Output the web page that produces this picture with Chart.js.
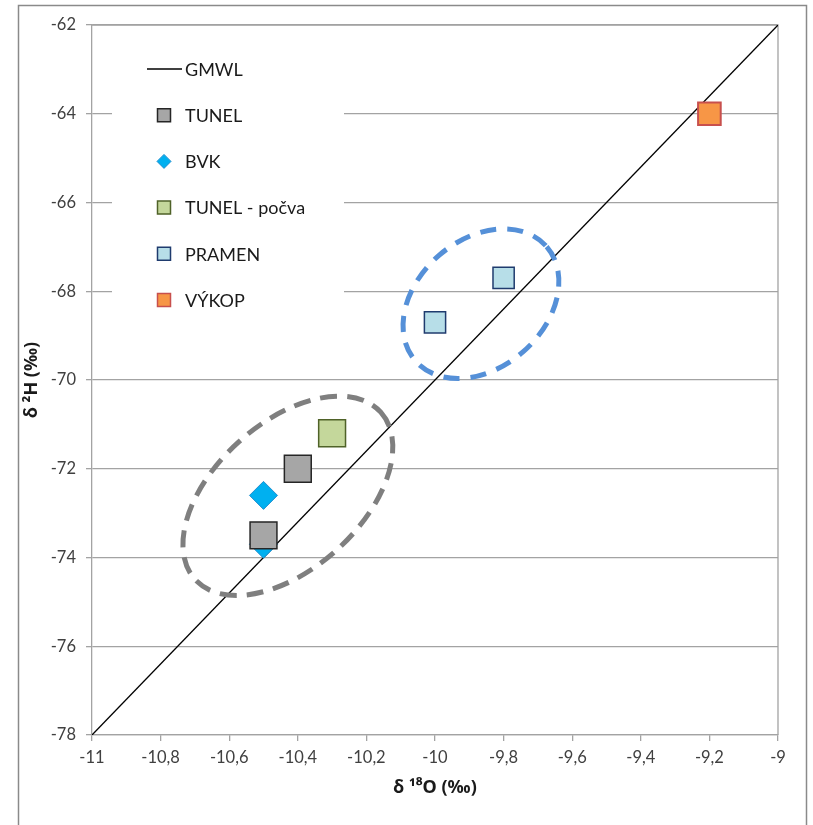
<!DOCTYPE html>
<html>
<head>
<meta charset="utf-8">
<title>δ18O – δ2H</title>
<script src="https://cdn.jsdelivr.net/npm/chart.js@4/dist/chart.umd.min.js"></script>
<style>
  html, body { margin: 0; padding: 0; background: #ffffff; }
  #wrap { width: 813px; height: 825px; }
</style>
</head>
<body>
<div id="wrap"><canvas id="c" width="813" height="825"></canvas></div>
<script>
// Isotope samples (δ18O ‰, δ2H ‰)
const gmwlX   = [-11, -9];
const gmwlY   = [-78, -62];
const tunelX  = [-10.4, -10.5];
const tunelY  = [-72.0, -73.5];
const bvkX    = [-10.5, -10.5];
const bvkY    = [-72.6, -73.7];
const pocvaX  = [-10.3];
const pocvaY  = [-71.2];
const pramenX = [-10.0, -9.8];
const pramenY = [-68.7, -67.7];
const vykopX  = [-9.2];
const vykopY  = [-64.0];

// Axis ticks
const xTicks = [-11, -10.8, -10.6, -10.4, -10.2, -10, -9.8, -9.6, -9.4, -9.2, -9];
const yTicks = [-78, -76, -74, -72, -70, -68, -66, -64, -62];

// Series names in legend order
const seriesNames = ['GMWL', 'TUNEL', 'BVK', 'TUNEL - počva', 'PRAMEN', 'VÝKOP'];

// Groups circled on the plot (centre in data units)
const groupCentreX = [-10.429, -9.866];
const groupCentreY = [-72.61, -68.28];

const pts = (xs, ys) => xs.map((x, i) => ({ x: x, y: ys[i] }));
const fmt = v => String(Math.round(v * 10) / 10).replace('.', ',');

const FONT = 'Lato, "Noto Sans", "DejaVu Sans", sans-serif';
const TITLE_FONT = '"Noto Sans", "DejaVu Sans", sans-serif';
const GRID = '#a3a3a3';

const datasets = [
  { label: seriesNames[0], type: 'line', data: pts(gmwlX, gmwlY), borderColor: '#000000', borderWidth: 1.3,
    pointRadius: 0, fill: false, order: 10 },
  { label: seriesNames[1], data: pts(tunelX, tunelY), pointStyle: 'rect', pointRadius: 19,
    backgroundColor: '#a6a6a6', borderColor: '#262626', borderWidth: 1.5, order: 1 },
  { label: seriesNames[2], data: pts(bvkX, bvkY), pointStyle: 'rectRot', pointRadius: 14,
    backgroundColor: '#00b0f0', borderColor: '#1f8fd0', borderWidth: 1, order: 2 },
  { label: seriesNames[3], data: pts(pocvaX, pocvaY), pointStyle: 'rect', pointRadius: 19,
    backgroundColor: '#c4d79b', borderColor: '#4f6228', borderWidth: 1.5, order: 1 },
  { label: seriesNames[4], data: pts(pramenX, pramenY), pointStyle: 'rect', pointRadius: 15,
    backgroundColor: '#b7dee8', borderColor: '#1f3b6e', borderWidth: 1.5, order: 1 },
  { label: seriesNames[5], data: pts(vykopX, vykopY), pointStyle: 'rect', pointRadius: 16,
    backgroundColor: '#f79646', borderColor: '#c8504d', borderWidth: 2, order: 1 }
];

// Outer frame and plot-area border
const framePlugin = {
  id: 'frame',
  beforeDraw(chart) {
    const c = chart.ctx;
    c.save();
    c.fillStyle = '#ffffff';
    c.fillRect(0, 0, chart.width, chart.height);
    c.strokeStyle = '#8a8a8a';
    c.lineWidth = 1.5;
    c.strokeRect(18.5, 5.5, 788, chart.height + 10);
    c.restore();
  },
  beforeDatasetsDraw(chart) {
    const a = chart.chartArea, c = chart.ctx;
    c.save();
    c.strokeStyle = GRID;
    c.lineWidth = 1.3;
    c.beginPath();
    c.moveTo(a.left, a.top);
    c.lineTo(a.right, a.top);
    c.lineTo(a.right, a.bottom);
    c.stroke();
    c.restore();
  }
};

// Dashed ellipses around sample groups
const ellipseStyles = [
  { color: '#7f7f7f', rx: 125, ry: 73, angle: -42, dash: [17, 10] },
  { color: '#5590d8', rx: 87, ry: 64, angle: -41, dash: [16, 11] }
];
const groupsPlugin = {
  id: 'groups',
  afterDatasetsDraw(chart) {
    const c = chart.ctx, xs = chart.scales.x, ys = chart.scales.y;
    groupCentreX.forEach((gx, i) => {
      const s = ellipseStyles[i];
      c.save();
      c.beginPath();
      c.ellipse(xs.getPixelForValue(gx), ys.getPixelForValue(groupCentreY[i]), s.rx, s.ry,
                s.angle * Math.PI / 180, 0, Math.PI * 2);
      c.setLineDash(s.dash);
      c.lineWidth = 5;
      c.strokeStyle = s.color;
      c.stroke();
      c.restore();
    });
  }
};

// Legend inside the plot area, on a white panel
const legendPlugin = {
  id: 'insideLegend',
  afterDraw(chart) {
    const c = chart.ctx;
    const x0 = 147, y0 = 69, step = 46.2;
    c.save();
    c.fillStyle = '#ffffff';
    c.fillRect(112, 42, 232, 278);
    c.font = '18px ' + FONT;
    c.textBaseline = 'middle';
    c.textAlign = 'left';
    chart.data.datasets.forEach((ds, i) => {
      const y = y0 + i * step;
      if (ds.type === 'line') {
        c.strokeStyle = ds.borderColor;
        c.lineWidth = 1.3;
        c.beginPath();
        c.moveTo(x0, y);
        c.lineTo(x0 + 35, y);
        c.stroke();
      } else {
        const cx = x0 + 17;
        c.fillStyle = ds.backgroundColor;
        c.strokeStyle = ds.borderColor;
        c.lineWidth = 1.5;
        c.beginPath();
        if (ds.pointStyle === 'rectRot') {
          const r = 7;
          c.moveTo(cx, y - r); c.lineTo(cx + r, y); c.lineTo(cx, y + r); c.lineTo(cx - r, y);
          c.closePath();
          c.lineWidth = 1;
        } else {
          c.rect(cx - 6.5, y - 6.5, 13, 13);
        }
        c.fill();
        c.stroke();
      }
      c.fillStyle = '#1a1a1a';
      c.fillText(ds.label, x0 + 38, y + 1);
    });
    c.restore();
  }
};

new Chart(document.getElementById('c'), {
  type: 'scatter',
  data: { datasets: datasets },
  options: {
    responsive: false,
    animation: false,
    events: [],
    layout: { padding: { top: 25, right: 35, left: 0, bottom: 0 } },
    plugins: { legend: { display: false }, tooltip: { enabled: false } },
    scales: {
      x: {
        type: 'linear', min: -11, max: -9,
        afterBuildTicks: s => { s.ticks = xTicks.map(v => ({ value: v })); },
        afterFit: s => { s.height = 90; },
        ticks: { callback: v => fmt(v), font: { family: FONT, size: 16.5 }, color: '#404040',
                 padding: 7, maxRotation: 0, autoSkip: false },
        grid: { drawOnChartArea: false, drawTicks: true, tickLength: 6, color: GRID, lineWidth: 1.3 },
        border: { color: GRID, width: 1.3 },
        title: { display: true, text: 'δ ¹⁸O (‰)', color: '#1a1a1a',
                 font: { family: TITLE_FONT, size: 18, weight: 'bold' }, padding: { top: 0, bottom: 26 } }
      },
      y: {
        type: 'linear', min: -78, max: -62,
        afterBuildTicks: s => { s.ticks = yTicks.map(v => ({ value: v })); },
        afterFit: s => { s.width = 92; },
        ticks: { callback: v => fmt(v), font: { family: FONT, size: 16.5 }, color: '#404040', padding: 10 },
        grid: { drawTicks: true, tickLength: 6, color: GRID, lineWidth: 1.3 },
        border: { color: GRID, width: 1.3 },
        title: { display: true, text: 'δ ²H (‰)', color: '#1a1a1a',
                 font: { family: TITLE_FONT, size: 18, weight: 'bold' }, padding: { top: 21, bottom: 0 } }
      }
    }
  },
  plugins: [framePlugin, groupsPlugin, legendPlugin]
});
</script>
</body>
</html>
